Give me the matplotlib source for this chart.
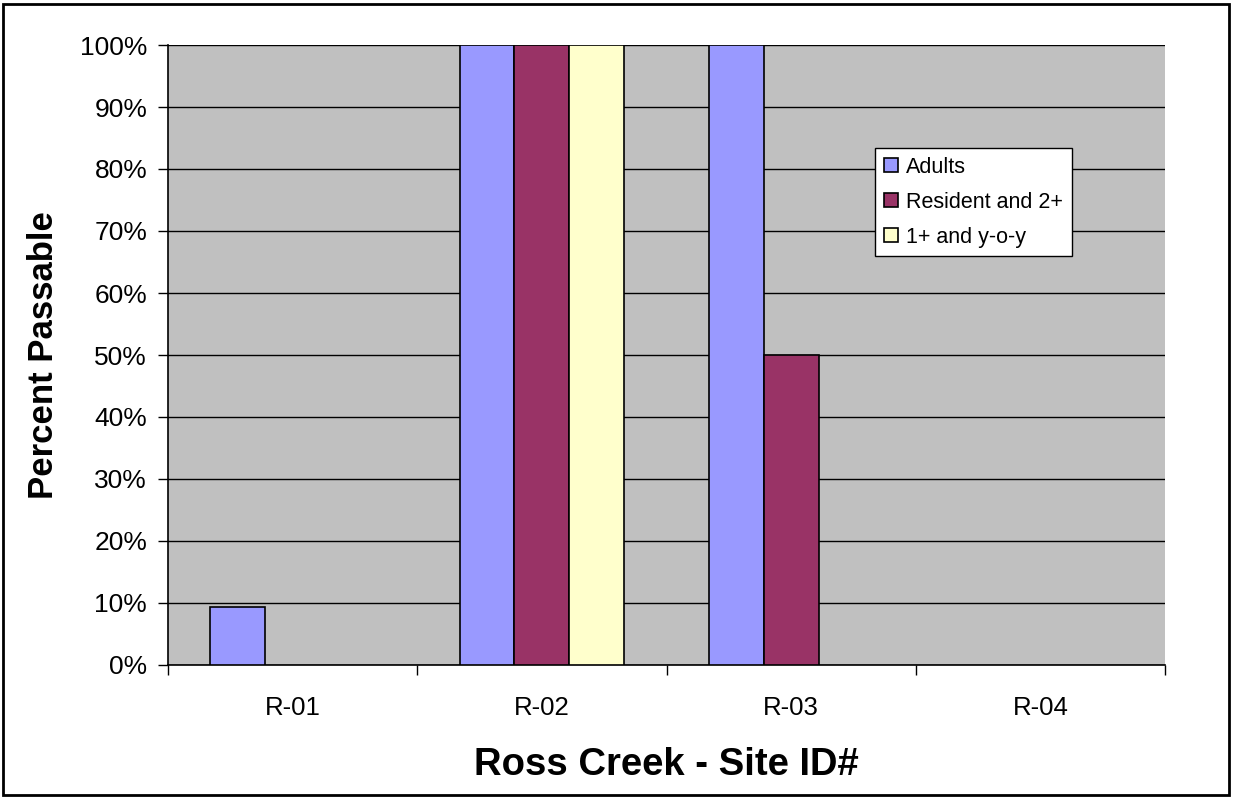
import numpy as np
import matplotlib
matplotlib.use('Agg')
import matplotlib.pyplot as plt
from matplotlib.ticker import PercentFormatter, FixedLocator

# Fish passability by site
sites = ['R-01', 'R-02', 'R-03', 'R-04']
series_names = ['Adults', 'Resident and 2+', '1+ and y-o-y']
adults = [9.4, 100, 100, 0]
resident = [0, 100, 50, 0]
juvenile = [0, 100, 0, 0]
colors = ['#9999FF', '#993366', '#FFFFCC']

plt.rcParams['font.family'] = ['Liberation Sans', 'DejaVu Sans']

fig = plt.figure(figsize=(12.33, 7.98), dpi=100)
ax = fig.add_axes([168 / 1233, 133 / 798, 997 / 1233, 620 / 798])
ax.set_facecolor('#C0C0C0')

x = np.arange(len(sites))
width = 0.22
for i, (vals, name, c) in enumerate(zip([adults, resident, juvenile], series_names, colors)):
    # skip zero-height bars so no edge line sits on the axis
    xs = [xi + (i - 1) * width for xi, v in zip(x, vals) if v > 0]
    vs = [v for v in vals if v > 0]
    ax.bar(xs, vs, width, color=c, edgecolor='black', linewidth=1.2, label=name, zorder=3)

ax.set_xlim(-0.5, len(sites) - 0.5)
ax.set_ylim(0, 100)
ax.set_yticks(np.arange(0, 101, 10))
ax.yaxis.set_major_formatter(PercentFormatter(decimals=0))
ax.yaxis.grid(True, color='black', linewidth=1)
ax.set_axisbelow(True)

# category labels centred, tick marks between categories
ax.set_xticks(x)
ax.set_xticklabels(sites)
ax.xaxis.set_minor_locator(FixedLocator(np.arange(-0.5, len(sites), 1)))
ax.tick_params(axis='x', which='major', length=0, pad=22, labelsize=18.5)
ax.tick_params(axis='x', which='minor', length=7, width=1)
ax.tick_params(axis='y', length=7, width=1, labelsize=19, pad=8)

for side in ['top', 'right']:
    ax.spines[side].set_visible(False)
ax.spines['left'].set_linewidth(1.2)
ax.spines['bottom'].set_linewidth(1.2)

ax.set_xlabel('Ross Creek - Site ID#', fontsize=27.5, fontweight='bold', labelpad=20)
ax.set_ylabel('Percent Passable', fontsize=25, fontweight='bold', labelpad=14)

leg = ax.legend(loc='upper left', bbox_to_anchor=(707 / 997, 1 - 103 / 620), fontsize=15.5,
                frameon=True, fancybox=False, edgecolor='black', facecolor='white',
                framealpha=1, handlelength=0.65, handleheight=0.65, handletextpad=0.4,
                borderpad=0.4, labelspacing=0.65, borderaxespad=0)
leg.get_frame().set_linewidth(1)

# outer chart border
fig.patches.append(plt.Rectangle((3 / 1233, 3 / 798), 1226 / 1233, 791 / 798,
                                 transform=fig.transFigure, fill=False,
                                 edgecolor='black', linewidth=2))

fig.savefig('out.png', dpi=100)
